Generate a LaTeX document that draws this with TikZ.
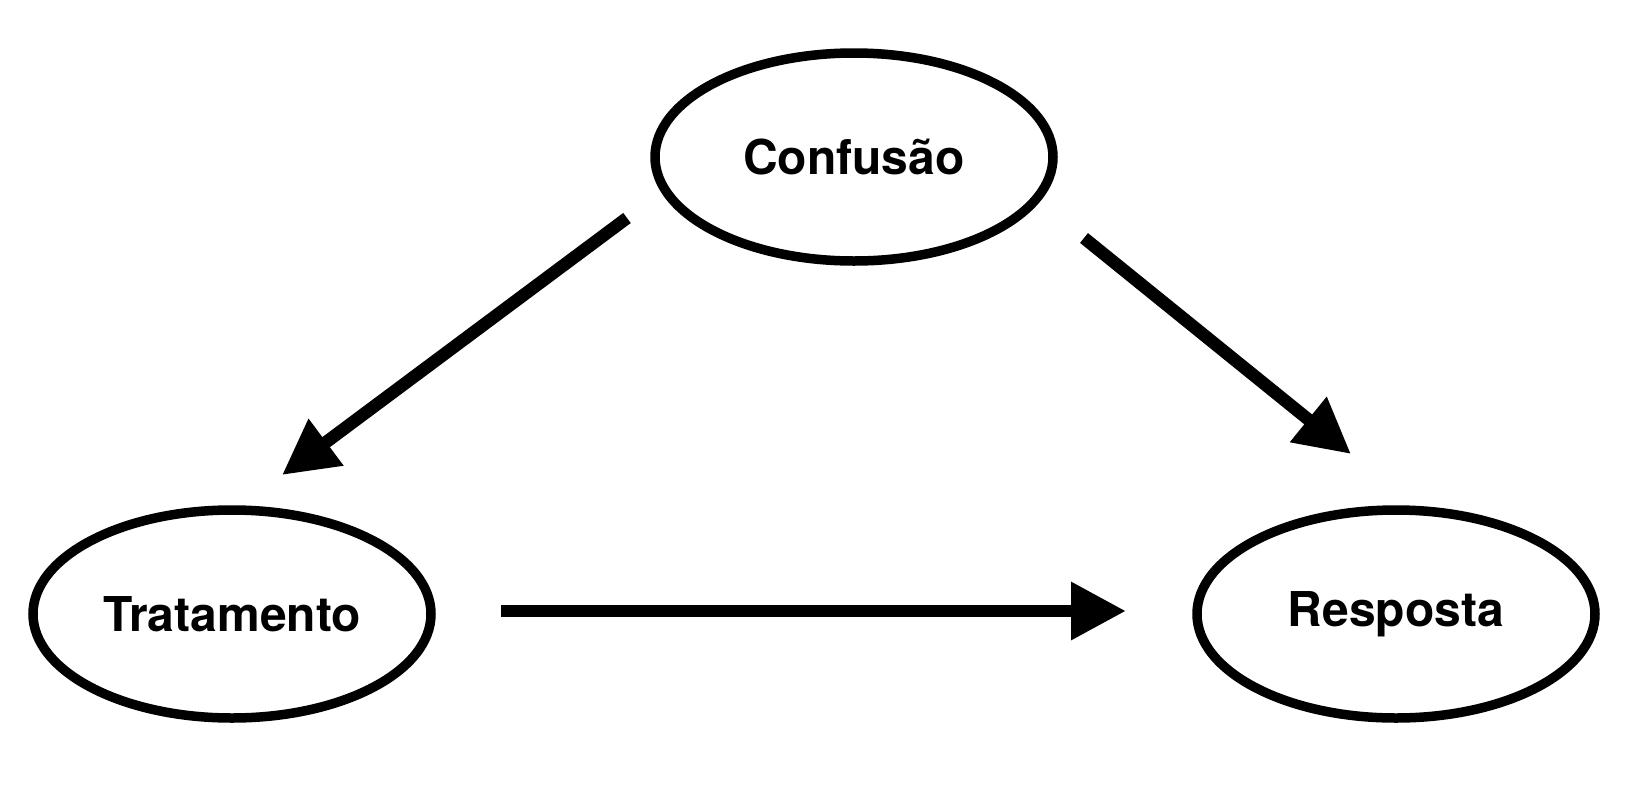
\documentclass[tikz,border=0pt]{standalone}
\usepackage{fontspec}
\setmainfont{TeX Gyre Heros}
\usetikzlibrary{shapes.geometric,arrows.meta}
\tikzset{
  varnode/.style={ellipse, draw=black, line width=9.5pt, minimum width=398pt, minimum height=208pt, inner sep=0pt, font=\fontsize{48}{50}\selectfont\bfseries},
  causal/.style={line width=12.6pt, -{Triangle[length=55pt,width=55pt]}}
}
\begin{document}
\begin{tikzpicture}[x=1pt,y=-1pt]
\useasboundingbox (0,0) rectangle (1650,796);
\node[varnode] (conf) at (854,157) {Confusão};
\node[varnode] (trat) at (232,614) {Tratamento};
\node[varnode] (resp) at (1396,614) {Resposta};
\coordinate (a1) at (627,218);
\coordinate (a2) at (282,475);
\coordinate (b1) at (1084,238);
\coordinate (b2) at (1351,454);
\coordinate (c1) at (501,611);
\coordinate (c2) at (1126,611);
\draw[causal] (a1) -- (a2);
\draw[causal] (b1) -- (b2);
\draw[causal] (c1) -- (c2);
\end{tikzpicture}
\end{document}
